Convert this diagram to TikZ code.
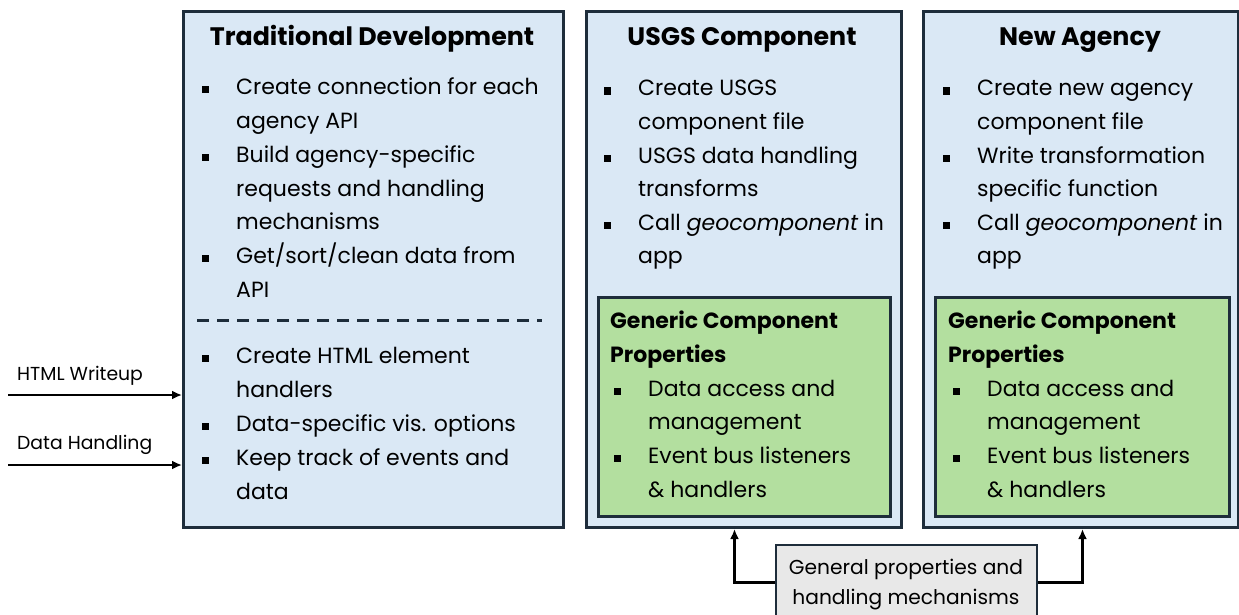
\documentclass[tikz,border=0pt]{standalone}
\usepackage{fontspec}
\setmainfont{Poppins}
\usetikzlibrary{arrows.meta}
\definecolor{bluefill}{HTML}{DAE8F5}
\definecolor{greenfill}{HTML}{B3DF9F}
\definecolor{grayfill}{HTML}{E8E8E8}
\definecolor{edge}{HTML}{1E2D3B}
\newcommand\bul{\makebox[34pt][l]{\rule[1.5pt]{7pt}{7pt}}}
\newcommand\ind{\hspace*{34pt}}
\tikzset{
  panel/.style={draw=edge, line width=3pt, fill=bluefill, inner sep=0pt},
  gbox/.style={draw=edge, line width=3pt, fill=greenfill, inner sep=0pt},
  graybox/.style={draw=edge, line width=2.4pt, fill=grayfill, inner sep=0pt},
  body/.style={inner sep=0pt, anchor=base west, font=\fontsize{22}{26}\selectfont},
  ttl/.style={inner sep=0pt, anchor=base, font=\fontsize{25.3}{30}\selectfont\bfseries},
  gh/.style={inner sep=0pt, anchor=base west, font=\fontsize{22}{26}\selectfont\bfseries},
  small/.style={inner sep=0pt, anchor=base, font=\fontsize{20.2}{24}\selectfont},
  lab/.style={inner sep=0pt, anchor=base west, font=\fontsize{18.8}{22}\selectfont},
  arr/.style={line width=2.8pt, -{Latex[length=10pt,width=9pt]}}
}
\begin{document}
\begin{tikzpicture}[x=1pt,y=-1pt]
\useasboundingbox (0,0) rectangle (1239,615);
% panels
\node[panel, minimum width=380pt, minimum height=516pt, anchor=north west] (b1) at (182,10) {};
\node[panel, minimum width=315pt, minimum height=516pt, anchor=north west] (b2) at (585,10) {};
\node[panel, minimum width=315pt, minimum height=516pt, anchor=north west] (b3) at (922,10) {};
\node[gbox, minimum width=292pt, minimum height=219pt, anchor=north west] (g2) at (597,296) {};
\node[gbox, minimum width=294pt, minimum height=219pt, anchor=north west] (g3) at (934,296) {};
\node[graybox, minimum width=261pt, minimum height=74pt, anchor=north west] (gr) at (775,544) {};
% titles
\node[ttl] (t1) at (372,46) {Traditional Development};
\node[ttl] (t2) at (742,46) {USGS Component};
\node[ttl] (t3) at (1080,46) {New Agency};
% box 1 text
\foreach \t [count=\i] in {{\bul Create connection for each},{\ind agency API},{\bul Build agency-specific},{\ind requests and handling},{\ind mechanisms},{\bul Get/sort/clean data from},{\ind API}}
  \node[body, name=p1-\i] at (202,{95+(\i-1)*33.7}) {\t};
\draw[edge, line width=3pt, dash pattern=on 12pt off 8pt] (197,320) -- (542,320);
\foreach \t [count=\i] in {{\bul Create HTML element},{\ind handlers},{\bul Data-specific vis. options},{\bul Keep track of events and},{\ind data}}
  \node[body, name=q1-\i] at (202,{363.5+(\i-1)*34}) {\t};
% box 2 text
\foreach \t [count=\i] in {{\bul Create USGS},{\ind component file},{\bul USGS data handling},{\ind transforms},{\bul Call \textit{geocomponent} in},{\ind app}}
  \node[body, name=p2-\i] at (604,{96+(\i-1)*33.5}) {\t};
% box 3 text
\foreach \t [count=\i] in {{\bul Create new agency},{\ind component file},{\bul Write transformation},{\ind specific function},{\bul Call \textit{geocomponent} in},{\ind app}}
  \node[body, name=p3-\i] at (943,{96+(\i-1)*33.5}) {\t};
% green boxes text
\node[gh] (h2a) at (610,328) {Generic Component};
\node[gh] (h2b) at (610,362) {Properties};
\foreach \t [count=\i] in {{\bul Data access and},{\ind management},{\bul Event bus listeners},{\ind \& handlers}}
  \node[body, name=r2-\i] at (614,{396+(\i-1)*33.8}) {\t};
\node[gh] (h3a) at (948,328) {Generic Component};
\node[gh] (h3b) at (948,362) {Properties};
\foreach \t [count=\i] in {{\bul Data access and},{\ind management},{\bul Event bus listeners},{\ind \& handlers}}
  \node[body, name=r3-\i] at (953,{396+(\i-1)*33.8}) {\t};
% gray box text
\node[small] (s1) at (906,574) {General properties and};
\node[small] (s2) at (906,604) {handling mechanisms};
% left labels and arrows
\node[lab] (l1) at (17,380) {HTML Writeup};
\node[lab] (l2) at (17,449) {Data Handling};
\coordinate (a1) at (8,395);
\coordinate (a2) at (8,465);
\draw[arr] (a1) -- (a1 -| b1.west);
\draw[arr] (a2) -- (a2 -| b1.west);
% bottom connectors
\draw[arr] (gr.west) -| ([xshift=-9.5pt]b2.south);
\draw[arr] (gr.east) -| ([xshift=1.5pt]b3.south);
\end{tikzpicture}
\end{document}
